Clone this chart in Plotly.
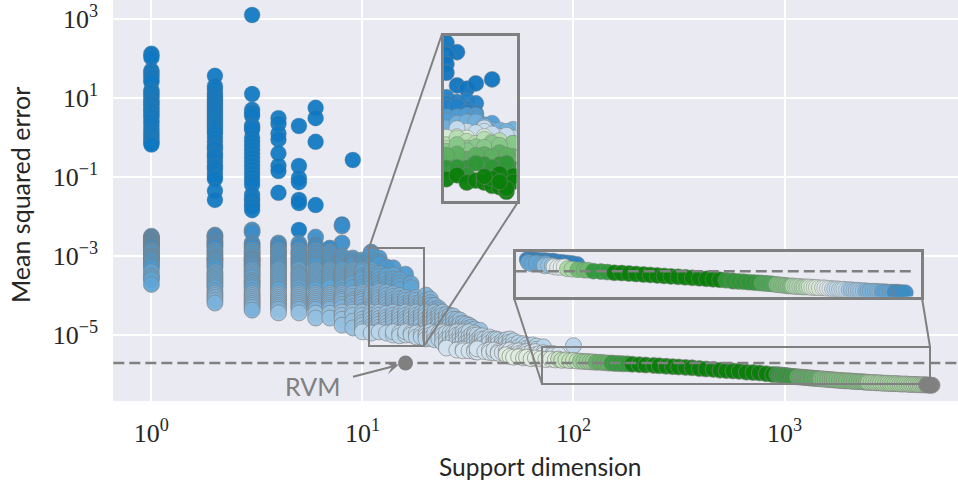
import math
import plotly.graph_objects as go

W, H = 958, 486
PL, PR, PT, PB = 113, 958, 0, 401  # plot area in pixels

# ---- main panel: colours of the bands, drawn in this order
main_colors = ["#0f78c2", "#3b8dca", "#4b99d0", "#5ea5d6", "#7bb2dc", "#94c0e1", "#b8d5ea", "#d3e4f0",
               "#e0eee0", "#c4e4bc", "#93cf90", "#60b060", "#2f9a38", "#0a7f0a", "#2f9636", "#5cae60",
               "#7fc07f", "#a4d69e", "#808080"]

# columns: support dimension -> log10 of the mean squared error
deep_x = [1, 2, 3, 4, 5, 6, 8, 9]
deep_y = [[2.12, 2.08, 2.02, 1.7, 1.66, 1.62, 1.56, 1.52, 1.45, 1.4, 1.2, 1.16, 1.12, 1.06, 1.02, .95, .9, .88, .84, .8, .74, .7, .65, .6, .55, .5, .42, .38, .3, .22, .15, .1, .05, 0, -.06, -.1, -.14, -.18],
          [1.56, 1.3, 1.22, 1.12, 1.05, 1.0, .95, .9, .85, .8, .75, .7, .65, .6, .55, .5, .45, .4, .35, .3, .25, .2, .15, .1, 0, -.1, -.2, -.25, -.3, -.4, -.45, -.5, -.6, -.7, -.75, -.8, -.9, -1.0, -1.05, -1.35, -1.58],
          [3.1, 1.1, .7, .62, .55, .3, .25, .2, 0, -.1, -.2, -.3, -.4, -.5, -.6, -.7, -.8, -.9, -1.0, -1.1, -1.2, -1.45, -1.55, -1.6, -1.7, -1.75, -1.84],
          [.49, .35, .1, -.05, -.4, -.72, -.85, -1.4],
          [.29, -.72, -1.03, -1.13, -1.58, -1.66, -2.34],
          [.75, .49, -.11, -1.71],
          [-2.2],
          [-.57]]

b1_x = [1, 2, 3, 4, 5, 6, 7, 8, 11]
b1_y = [[-2.5, -2.53, -2.55, -2.58, -2.6, -2.63, -2.65, -2.68, -2.7, -2.72, -2.75, -2.78, -2.8], [-2.47, -2.5, -2.55, -2.62, -2.66, -2.7, -2.74, -2.78],
        [-2.34, -2.4, -2.67, -2.72, -2.78], [-2.67, -2.72, -2.78], [-2.68, -2.75], [-2.52, -2.72, -2.78],
        [-2.82, -2.8], [-2.24, -2.67], [-2.9]]

b2_x = [1, 2, 3, 4, 5, 6, 7, 8, 9, 10, 11, 12, 13, 14, 16]
b2_y = [[-2.85, -2.88, -2.9, -2.95, -3.0, -3.03, -3.05, -3.08, -3.1, -3.15, -3.2, -3.25, -3.3], [-2.85, -2.9, -2.95, -3.0, -3.05, -3.08, -3.1, -3.15, -3.2, -3.25, -3.3],
        [-2.85, -2.9, -2.95, -3.0, -3.05, -3.08, -3.1, -3.14, -3.18, -3.22, -3.25, -3.3], [-2.85, -2.9, -2.95, -3.0, -3.05, -3.1, -3.15, -3.2, -3.25, -3.3],
        [-2.85, -2.9, -2.95, -3.0, -3.05, -3.1, -3.15, -3.2, -3.25, -3.3], [-2.85, -2.9, -2.95, -3.0, -3.05, -3.1, -3.15, -3.2, -3.25], [-2.9, -2.95, -3.0, -3.05, -3.1, -3.15, -3.2, -3.25, -3.3],
        [-3.0, -3.05, -3.1, -3.15, -3.2, -3.25, -3.3], [-3.05, -3.1, -3.15, -3.2, -3.25], [-3.1, -3.15, -3.2, -3.25, -3.3], [-2.95, -3.1, -3.18, -3.25], [-3.05, -3.15, -3.2],
        [-3.28, -3.48], [-3.3], [-3.46]]

b3_x = [1, 2, 3, 4, 5, 6, 7, 8, 9, 10, 11, 12, 13, 14, 15, 17]
b3_y = [[-3.4, -3.5, -3.55, -3.6, -3.72], [-3.4, -3.45, -3.5, -3.55, -3.6, -3.65, -3.7, -3.75, -3.8, -3.88], [-3.35, -3.4, -3.45, -3.5, -3.55, -3.62, -3.66, -3.7, -3.75, -3.8, -3.88],
        [-3.35, -3.4, -3.45, -3.5, -3.55, -3.6, -3.65, -3.7, -3.75, -3.8, -3.85], [-3.35, -3.42, -3.46, -3.5, -3.55, -3.6, -3.65, -3.7, -3.75, -3.8, -3.88],
        [-3.35, -3.4, -3.45, -3.5, -3.55, -3.6, -3.65, -3.7, -3.75, -3.8, -3.85], [-3.35, -3.4, -3.45, -3.5, -3.55, -3.6, -3.65, -3.7, -3.75, -3.8],
        [-3.35, -3.4, -3.45, -3.5, -3.55, -3.6, -3.65, -3.7, -3.75, -3.8, -3.88], [-3.35, -3.4, -3.45, -3.5, -3.55, -3.6, -3.65, -3.7, -3.8], [-3.35, -3.4, -3.5, -3.55, -3.6, -3.7, -3.78, -3.85],
        [-3.35, -3.42, -3.5, -3.58, -3.65, -3.72, -3.8], [-3.45, -3.52, -3.6, -3.68, -3.75, -3.82], [-3.5, -3.6, -3.7, -3.78, -3.85], [-3.48, -3.58, -3.65, -3.72, -3.8, -3.88], [-3.6, -3.68, -3.75, -3.85], [-3.7, -3.8]]

b4_x = [2, 3, 4, 5, 6, 7, 8, 9, 10, 11, 12, 13, 14, 15, 16, 17, 18, 19, 20, 21, 22, 23]
b4_y = [[-3.95, -4.0, -4.05, -4.12, -4.19], [-3.95, -4.0, -4.05, -4.1, -4.15, -4.2, -4.25, -4.3, -4.37], [-3.95, -4.0, -4.05, -4.1, -4.15, -4.2, -4.25, -4.3, -4.35],
        [-3.95, -4.0, -4.05, -4.1, -4.15, -4.2, -4.25, -4.3, -4.35], [-3.95, -4.0, -4.05, -4.1, -4.15, -4.2, -4.25, -4.3, -4.35], [-3.95, -4.0, -4.05, -4.1, -4.15, -4.2, -4.25, -4.3, -4.35],
        [-3.95, -4.0, -4.05, -4.1, -4.15, -4.22, -4.3], [-3.95, -4.02, -4.1, -4.15, -4.2, -4.28, -4.35], [-3.92, -3.98, -4.05, -4.1, -4.15, -4.22, -4.3, -4.38], [-3.95, -4.02, -4.1, -4.18, -4.25, -4.3, -4.35],
        [-3.9, -3.98, -4.05, -4.12, -4.2, -4.28, -4.35], [-3.92, -4.0, -4.08, -4.15, -4.22, -4.3, -4.38], [-3.95, -4.02, -4.1, -4.18, -4.25, -4.32, -4.38], [-4.0, -4.08, -4.15, -4.22, -4.3, -4.36],
        [-4.05, -4.12, -4.2, -4.28, -4.35], [-4.1, -4.18, -4.25, -4.32, -4.38], [-4.05, -4.12, -4.2, -4.28, -4.35], [-4.15, -4.22, -4.3, -4.37], [-3.99, -4.12, -4.2, -4.28, -4.35],
        [-4.09, -4.18, -4.25, -4.32, -4.38], [-4.25, -4.35], [-4.32, -4.38]]

b5_x = [4, 5, 6, 7, 8, 9, 10, 11, 12, 13, 14, 15, 16, 17, 18, 19, 20, 21, 22, 23, 24, 25, 26, 27, 28, 29, 30, 31, 32, 33, 34, 36]
b5_y = [[-4.44], [-4.44], [-4.45, -4.57], [-4.45, -4.57], [-4.42, -4.5, -4.6, -4.75], [-4.42, -4.5, -4.65, -4.82], [-4.42, -4.5, -4.6, -4.68, -4.75, -4.85],
        [-4.42, -4.5, -4.6, -4.7, -4.78, -4.85], [-4.42, -4.5, -4.58, -4.65, -4.72, -4.8, -4.88], [-4.45, -4.55, -4.62, -4.7, -4.78, -4.85], [-4.42, -4.5, -4.58, -4.65, -4.72, -4.8, -4.88],
        [-4.45, -4.52, -4.6, -4.68, -4.75, -4.85], [-4.42, -4.5, -4.58, -4.65, -4.72, -4.8, -4.87], [-4.45, -4.52, -4.6, -4.7, -4.78, -4.85], [-4.42, -4.5, -4.58, -4.65, -4.72, -4.8, -4.88],
        [-4.45, -4.52, -4.6, -4.68, -4.75, -4.88], [-4.42, -4.5, -4.6, -4.7, -4.78, -4.85], [-4.45, -4.52, -4.6, -4.7, -4.8, -4.87], [-4.42, -4.5, -4.58, -4.65, -4.75, -4.85], [-4.45, -4.52, -4.6, -4.68, -4.75, -4.85],
        [-4.42, -4.5, -4.6, -4.7, -4.8, -4.88], [-4.48, -4.55, -4.65, -4.75, -4.85], [-4.5, -4.58, -4.65, -4.75, -4.85], [-4.52, -4.6, -4.7, -4.8, -4.88], [-4.6, -4.68, -4.8, -4.87], [-4.62, -4.72, -4.85],
        [-4.7, -4.78, -4.85], [-4.72, -4.82, -4.89], [-4.75, -4.82, -4.88], [-4.8, -4.87], [-4.85], [-4.88]]

b6_x = [10, 11, 12, 13, 14, 15, 16, 17, 18, 19, 20, 21, 22, 23, 24, 25, 26, 27, 28, 29, 30, 31, 32, 33, 34, 35, 36, 37, 38, 40, 42, 43, 44, 46, 48, 50, 52, 55, 58, 60, 64, 67, 72, 100]
b6_y = [[-4.92], [-4.95], [-4.92], [-4.95], [-5.0, -4.92], [-4.95, -5.02], [-5.0, -4.92], [-4.95, -5.0], [-4.95, -5.05], [-4.98, -5.05], [-4.95, -5.02, -5.1],
        [-4.92, -5.0, -5.08], [-5.05, -4.95, -5.12], [-4.95, -5.03, -5.1], [-4.92, -5.0, -5.1, -5.2], [-4.95, -5.1, -5.18, -5.3], [-4.95, -5.05, -5.2], [-4.95, -5.05, -5.15, -5.3], [-4.92, -5.0, -5.12, -5.2], [-4.98, -5.1, -5.22, -5.32],
        [-4.92, -5.0, -5.08, -5.15, -5.3], [-4.95, -5.05, -5.18, -5.28], [-4.92, -5.05, -5.15, -5.25], [-4.98, -5.1, -5.2, -5.32], [-4.95, -5.0, -5.1, -5.2, -5.35], [-5.0, -5.12, -5.25], [-5.05, -5.15, -5.25], [-5.02, -5.1, -5.22, -5.34], [-5.1, -5.2, -5.3],
        [-5.05, -5.12, -5.2, -5.35], [-5.1, -5.2, -5.3], [-5.1, -5.18, -5.3], [-5.12, -5.22, -5.34], [-5.15, -5.22, -5.3], [-5.12, -5.2, -5.32], [-5.1, -5.18, -5.25], [-5.15, -5.25, -5.33], [-5.2, -5.3], [-5.22, -5.33], [-5.25, -5.34], [-5.25, -5.35], [-5.28, -5.36], [-5.3], [-5.27]]

b7_x = [25, 28, 30, 32, 34, 35, 38, 40, 42, 44, 46, 48, 50, 52, 55, 58, 60, 63, 66, 69, 72, 76, 80, 85]
b7_y = [[-5.33], [-5.38], [-5.36, -5.4], [-5.4], [-5.38, -5.42], [-5.43, -5.35], [-5.42], [-5.38, -5.44], [-5.45, -5.38], [-5.42, -5.46], [-5.44], [-5.4, -5.47], [-5.46, -5.38], [-5.42, -5.48], [-5.4, -5.47],
        [-5.43, -5.48], [-5.42, -5.48], [-5.44], [-5.42, -5.5], [-5.47], [-5.45, -5.5], [-5.47], [-5.47, -5.52], [-5.5]]

# the thin strip of larger supports
s0_x = [48, 50, 52, 55, 58, 60, 63, 66, 70, 74, 78, 82]
s0_y = [-5.50, -5.54, -5.56, -5.55, -5.58, -5.56, -5.60, -5.58, -5.60, -5.62, -5.61, -5.63]
s1_x = [85, 88, 92, 96, 100, 104]
s1_y = [-5.61, -5.64, -5.63, -5.65, -5.64, -5.66]
s2_x = [108, 112, 116, 120, 124]
s2_y = [-5.66, -5.67, -5.67, -5.68, -5.68]
s3_x = [128, 134, 140, 146]
s3_y = [-5.69, -5.69, -5.70, -5.71]
s4_x = [152, 158, 165, 172, 180]
s4_y = [-5.71, -5.72, -5.72, -5.73, -5.73]
s5_x = [190, 205, 220, 240, 255, 275, 295, 315, 340, 365, 395, 425, 460, 495, 530, 570, 610, 660, 710, 760, 820, 880]
s5_y = [-5.74, -5.75, -5.76, -5.77, -5.78, -5.79, -5.80, -5.81, -5.82, -5.83, -5.85, -5.86, -5.87, -5.89, -5.90, -5.91, -5.92, -5.94, -5.95, -5.96, -5.98, -6.00]
s6_x = [920, 950, 975, 1000, 1030, 1060, 1090, 1120]
s6_y = [-6.0, -6.01, -6.02, -6.02, -6.03, -6.04, -6.05, -6.05]
s7_x = [1150, 1180, 1210, 1240, 1270, 1300, 1330, 1360, 1400, 1440]
s7_y = [-6.06, -6.06, -6.07, -6.07, -6.08, -6.08, -6.09, -6.09, -6.10, -6.10]
s8_x = [1480, 1520, 1560, 1600, 1640, 1680, 1720, 1770, 1820, 1870, 1920, 1970, 2030, 2080, 2140, 2200, 2260, 2320, 2380, 2440]
s8_y = [-6.11, -6.11, -6.12, -6.12, -6.13, -6.13, -6.14, -6.14, -6.15, -6.15, -6.16, -6.16, -6.16, -6.17, -6.17, -6.18, -6.18, -6.18, -6.19, -6.19]
s9_x = [2500, 2570, 2640, 2710, 2780, 2850, 2930, 3010, 3090, 3170, 3250, 3340, 3430, 3520, 3610, 3700, 3800, 3900, 4000, 4100, 4200, 4300, 4400, 4500, 4600]
s9_y = [-6.20, -6.20, -6.20, -6.21, -6.21, -6.21, -6.22, -6.22, -6.22, -6.23, -6.23, -6.23, -6.23, -6.24, -6.24, -6.24, -6.24, -6.25, -6.25, -6.25, -6.25, -6.26, -6.26, -6.26, -6.26]
s10_x = [4700, 4800, 4900, 5000]
s10_y = [-6.26, -6.27, -6.27, -6.27]

# the RVM reference
rvm_x = 16
rvm_y = -5.71
rvm_line_x = [0.66, 7000]
rvm_inset_x = [71, 4560]

# ---- inset 1
i1_colors = ["#0f75c0", "#2080c8", "#4f9dd5", "#72b0dd", "#c8deee", "#d9ebd6", "#b5deb0", "#86c888", "#5cb060", "#2f9636", "#0a7f0a"]
i1_x = [[11, 12, 11, 11, 11, 12, 13, 14, 16],
        [11, 11, 12, 13, 14, 13, 12, 14, 11, 12, 13],
        [11, 12, 13, 14, 15, 11, 14, 16],
        [11, 12, 13, 14, 16, 17, 19, 15, 18],
        [13, 15, 15, 12, 17, 19, 14, 16, 18],
        [11, 12, 15, 13, 11],
        [11, 12, 13, 14, 15, 16, 11, 17, 19],
        [12, 13, 14, 16, 18, 11, 19, 15, 17, 13, 12],
        [11, 12, 13, 15, 19, 17, 14, 16, 18, 12, 11, 14],
        [11, 12, 13, 15, 19, 17, 14, 16, 18, 12, 13],
        [11, 12, 13, 14, 15, 16, 17, 18, 18, 19, 17, 16, 19, 15, 18, 17]]
i1_y = [[-2.91, -3.05, -3.09, -3.23, -3.36, -3.55, -3.6, -3.52, -3.46],
        [-3.73, -3.82, -3.80, -3.78, -3.82, -3.9, -3.92, -3.97, -3.88, -3.86, -3.95],
        [-4.02, -4.02, -4.0, -4.0, -4.14, -4.08, -4.05, -4.12],
        [-4.19, -4.12, -4.1, -4.1, -4.22, -4.22, -4.21, -4.16, -4.24],
        [-4.24, -4.19, -4.24, -4.2, -4.32, -4.34, -4.26, -4.28, -4.3],
        [-4.37, -4.32, -4.32, -4.34, -4.33],
        [-4.44, -4.34, -4.39, -4.42, -4.36, -4.4, -4.5, -4.38, -4.42],
        [-4.51, -4.49, -4.47, -4.42, -4.49, -4.54, -4.42, -4.48, -4.45, -4.53, -4.44],
        [-4.64, -4.66, -4.66, -4.59, -4.62, -4.56, -4.68, -4.62, -4.6, -4.58, -4.6, -4.6],
        [-4.79, -4.88, -4.79, -4.74, -4.81, -4.74, -4.72, -4.78, -4.72, -4.78, -4.9],
        [-4.96, -4.9, -5.01, -4.98, -5.01, -5.06, -5.08, -5.03, -5.15, -4.91, -4.88, -4.95, -5.0, -4.92, -5.1, -5.0]]

# ---- inset 2
i2_colors = ["#2f80c0", "#62a6d8", "#93c1e3", "#e2ecea", "#a8d8a0", "#6dbb6f", "#2e9a3a", "#0a7f0a", "#2f9636", "#4ba853",
             "#7fc280", "#b0dbb0", "#d6e9d6", "#dfe8ea", "#c5ddec", "#a0c8e6", "#7eb6e0", "#5fa4d6", "#3d8ec5"]
i2_x = [[80, 84, 88, 92, 96, 100, 105, 110, 116, 122, 128, 135],
        [81, 84, 88, 93, 97],
        [96, 100, 104],
        [106, 110, 114, 118],
        [122, 128],
        [136, 145, 151],
        [160, 173, 185],
        [199, 215, 232, 250, 270, 290, 312, 335, 360, 388, 418, 450, 485, 522, 560, 600],
        [640, 680, 692, 730, 770, 810, 855, 900],
        [930, 960, 990, 1020, 1050],
        [1084, 1110, 1140, 1170, 1200, 1230, 1260],
        [1288, 1320, 1350, 1385, 1420, 1450, 1490],
        [1532, 1570, 1610, 1650, 1700],
        [1758, 1800, 1850, 1900],
        [1950, 2000, 2050, 2100, 2150, 2200, 2260],
        [2318, 2380, 2440, 2500, 2560, 2620, 2690],
        [2760, 2830, 2900, 2980, 3060, 3130, 3200],
        [3280, 3370, 3460, 3560, 3650],
        [3750, 3850, 3950, 4050, 4178]]
i2_y = [[-5.47, -5.47, -5.48, -5.49, -5.49, -5.50, -5.50, -5.52, -5.53, -5.54, -5.55, -5.57],
        [-5.53, -5.56, -5.54, -5.56, -5.55],
        [-5.60, -5.59, -5.60],
        [-5.62, -5.63, -5.63, -5.62],
        [-5.66, -5.67],
        [-5.68, -5.69, -5.69],
        [-5.71, -5.72, -5.73],
        [-5.745, -5.75, -5.76, -5.77, -5.78, -5.79, -5.80, -5.81, -5.82, -5.83, -5.84, -5.85, -5.86, -5.87, -5.88, -5.89],
        [-5.90, -5.91, -5.92, -5.925, -5.93, -5.94, -5.95, -5.955],
        [-5.96, -5.965, -5.97, -5.975, -5.98],
        [-5.99, -5.995, -6.0, -6.005, -6.01, -6.02, -6.02],
        [-6.02, -6.03, -6.03, -6.03, -6.04, -6.04, -6.04],
        [-6.04, -6.05, -6.05, -6.05, -6.06],
        [-6.06, -6.06, -6.07, -6.07],
        [-6.08, -6.08, -6.08, -6.09, -6.09, -6.09, -6.10],
        [-6.10, -6.10, -6.11, -6.11, -6.11, -6.12, -6.12],
        [-6.12, -6.13, -6.13, -6.13, -6.13, -6.14, -6.14],
        [-6.14, -6.14, -6.15, -6.15, -6.15],
        [-6.15, -6.15, -6.16, -6.16, -6.16]]

x_ticks = [1, 10, 100, 1000]
x_labels = ["10<sup>0</sup>", "10<sup>1</sup>", "10<sup>2</sup>", "10<sup>3</sup>"]
y_ticks = [1e3, 1e1, 1e-1, 1e-3, 1e-5]
y_labels = ["10<sup>3</sup>", "10<sup>1</sup>", "10<sup>−1</sup>", "10<sup>−3</sup>", "10<sup>−5</sup>"]

GRAY = "#808080"
BG = "#EAEAF2"
TXT = "#262626"
SERIF = "Liberation Serif"
SANS = "Lato"


def fx(px):
    return (px - PL) / (PR - PL)


def fy(py):
    return 1 - (py - PT) / (PB - PT)


def flat_col(xs, yss):
    ox, oy = [], []
    for x, ys in zip(xs, yss):
        for y in ys:
            ox.append(x)
            oy.append(y)
    return ox, oy


def dots(xs, ys, color, xa="x", ya="y", size=16, opacity=0.93, edge="rgba(128,128,128,0.75)"):
    return go.Scatter(x=xs, y=[10 ** v for v in ys], mode="markers", xaxis=xa, yaxis=ya, showlegend=False,
                      hoverinfo="skip",
                      marker=dict(size=size, color=color, opacity=opacity, line=dict(color=edge, width=0.7)))


fig = go.Figure()
main_bands = [flat_col(deep_x, deep_y), flat_col(b1_x, b1_y), flat_col(b2_x, b2_y), flat_col(b3_x, b3_y),
              flat_col(b4_x, b4_y), flat_col(b5_x, b5_y), flat_col(b6_x, b6_y), flat_col(b7_x, b7_y),
              (s0_x, s0_y), (s1_x, s1_y), (s2_x, s2_y), (s3_x, s3_y), (s4_x, s4_y), (s5_x, s5_y),
              (s6_x, s6_y), (s7_x, s7_y), (s8_x, s8_y), (s9_x, s9_y), (s10_x, s10_y)]
for i, ((bx, by), c) in enumerate(zip(main_bands, main_colors)):
    fig.add_trace(dots(bx, by, c, edge="rgba(128,128,128,0.35)" if i == 0 else GRAY))

dash_line = dict(color=GRAY, width=2.5, dash="11px,5px")
fig.add_trace(go.Scatter(x=rvm_line_x, y=[10 ** rvm_y] * 2, mode="lines", line=dash_line, showlegend=False,
                         hoverinfo="skip", cliponaxis=False))
fig.add_trace(go.Scatter(x=[rvm_x], y=[10 ** rvm_y], mode="markers", showlegend=False, hoverinfo="skip",
                         marker=dict(size=15, color=GRAY)))

for bx, by, c in zip(i1_x, i1_y, i1_colors):
    fig.add_trace(dots(bx, by, c, "x2", "y2", 16, 0.95))
for bx, by, c in zip(i2_x, i2_y, i2_colors):
    fig.add_trace(dots(bx, by, c, "x3", "y3", 16, 0.95))
fig.add_trace(go.Scatter(x=rvm_inset_x, y=[10 ** rvm_y] * 2, mode="lines", line=dash_line, showlegend=False,
                         hoverinfo="skip", xaxis="x3", yaxis="y3"))

hidden = dict(type="log", showgrid=False, zeroline=False, showticklabels=False, ticks="",
              showline=True, mirror=True, linecolor=GRAY, linewidth=3)

fig.update_layout(
    width=W, height=H, margin=dict(l=PL, r=W - PR, t=PT, b=H - PB),
    paper_bgcolor="white", plot_bgcolor=BG, showlegend=False,
    xaxis=dict(type="log", range=[-0.182, 3.822], tickvals=x_ticks, ticktext=x_labels, gridcolor="white", gridwidth=2,
               zeroline=False, ticks="", showline=False, ticklabelstandoff=14,
               tickfont=dict(family=SERIF, size=26, color=TXT)),
    yaxis=dict(type="log", range=[-6.67, 3.48], tickvals=y_ticks, ticktext=y_labels, gridcolor="white", gridwidth=2,
               zeroline=False, ticks="", showline=False, ticklabelstandoff=14,
               tickfont=dict(family=SERIF, size=26, color=TXT)),
    xaxis2=dict(hidden, range=[1.031, 1.291], domain=[fx(443.5), fx(516.5)], anchor="y2"),
    yaxis2=dict(hidden, range=[-5.28, -2.80], domain=[fy(200.5), fy(35.5)], anchor="x2"),
    xaxis3=dict(hidden, range=[1.85, 3.69], domain=[fx(515.5), fx(920.5)], anchor="y3"),
    yaxis3=dict(hidden, range=[-6.24, -5.30], domain=[fy(296.5), fy(251.5)], anchor="x3"),
)

boxes = [(369, 248, 424, 346), (542, 347, 930, 384)]
for x0, y0, x1, y1 in boxes:
    fig.add_shape(type="rect", xref="paper", yref="paper", x0=fx(x0), x1=fx(x1), y0=fy(y1), y1=fy(y0),
                  line=dict(color=GRAY, width=2), layer="above")
links = [(369, 248, 442, 34), (424, 346, 518, 202), (514, 298, 542, 384), (922, 298, 930, 347)]
for x0, y0, x1, y1 in links:
    fig.add_shape(type="line", xref="paper", yref="paper", x0=fx(x0), x1=fx(x1), y0=fy(y0), y1=fy(y1),
                  line=dict(color=GRAY, width=2), layer="above")

fig.add_annotation(x=math.log10(rvm_x), y=rvm_y, xref="x", yref="y", text="", showarrow=True, ax=-54, ay=14,
                   arrowhead=3, arrowsize=1.1, arrowwidth=2, arrowcolor=GRAY, standoff=7)
fig.add_annotation(x=fx(312), y=fy(386), xref="paper", yref="paper", text="RVM", showarrow=False,
                   xanchor="center", yanchor="middle", font=dict(family=SANS, size=25, color=GRAY))
fig.add_annotation(x=fx(540), y=fy(466), xref="paper", yref="paper", text="Support dimension", showarrow=False,
                   xanchor="center", yanchor="middle", font=dict(family=SANS, size=24.5, color=TXT))
fig.add_annotation(x=fx(20), y=fy(195), xref="paper", yref="paper", text="Mean squared error", showarrow=False,
                   textangle=-90, xanchor="center", yanchor="middle", font=dict(family=SANS, size=25, color=TXT))

fig.write_html("out.html", config={"displayModeBar": False},
               post_script="document.body.style.margin='0';document.body.style.overflow='hidden';")
